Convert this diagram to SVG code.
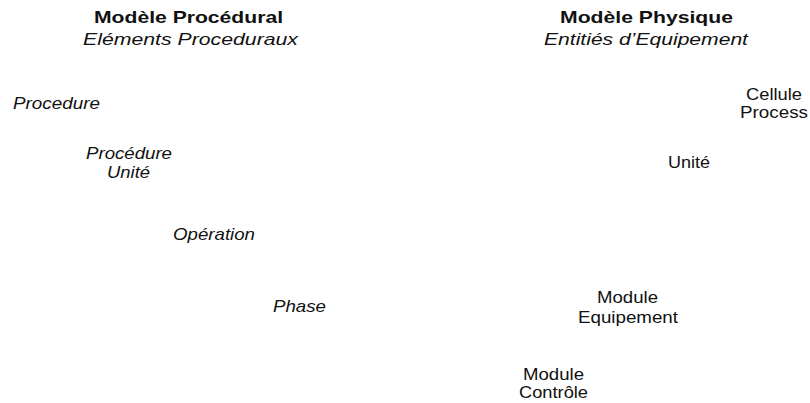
<svg xmlns="http://www.w3.org/2000/svg" width="810" height="403" viewBox="0 0 810 403">
  <style>
    text { font-family: "Liberation Sans", Arial, sans-serif; font-size: 16.5px; fill: #111; text-anchor: middle; }
    .title { font-weight: bold; }
    .it { font-style: italic; }
  </style>
  <rect width="810" height="403" fill="#fff"/>

  <!-- column headings -->
  <g id="heading-procedural">
    <text class="title" x="188.5" y="23" textLength="189" lengthAdjust="spacingAndGlyphs">Modèle Procédural</text>
    <text class="it" x="190.5" y="45" textLength="215" lengthAdjust="spacingAndGlyphs">Eléments Proceduraux</text>
  </g>
  <g id="heading-physical">
    <text class="title" x="646.5" y="23" textLength="173" lengthAdjust="spacingAndGlyphs">Modèle Physique</text>
    <text class="it" x="646" y="45" textLength="204" lengthAdjust="spacingAndGlyphs">Entitiés d’Equipement</text>
  </g>

  <!-- procedural elements -->
  <g id="procedure">
    <text class="it" x="56.5" y="109" textLength="87" lengthAdjust="spacingAndGlyphs">Procedure</text>
  </g>
  <g id="procedure-unite">
    <text class="it" x="129" y="159" textLength="86" lengthAdjust="spacingAndGlyphs">Procédure</text>
    <text class="it" x="128.5" y="178" textLength="43" lengthAdjust="spacingAndGlyphs">Unité</text>
  </g>
  <g id="operation">
    <text class="it" x="214" y="240" textLength="82" lengthAdjust="spacingAndGlyphs">Opération</text>
  </g>
  <g id="phase">
    <text class="it" x="299.5" y="312" textLength="53" lengthAdjust="spacingAndGlyphs">Phase</text>
  </g>

  <!-- physical entities -->
  <g id="cellule-process">
    <text x="774" y="100" textLength="56" lengthAdjust="spacingAndGlyphs">Cellule</text>
    <text x="774" y="118" textLength="68" lengthAdjust="spacingAndGlyphs">Process</text>
  </g>
  <g id="unite">
    <text x="689" y="168" textLength="42" lengthAdjust="spacingAndGlyphs">Unité</text>
  </g>
  <g id="module-equipement">
    <text x="627.5" y="303" textLength="61" lengthAdjust="spacingAndGlyphs">Module</text>
    <text x="628" y="323" textLength="100" lengthAdjust="spacingAndGlyphs">Equipement</text>
  </g>
  <g id="module-controle">
    <text x="553.5" y="380" textLength="61" lengthAdjust="spacingAndGlyphs">Module</text>
    <text x="553.5" y="398" textLength="69" lengthAdjust="spacingAndGlyphs">Contrôle</text>
  </g>

  <!-- connectors: none drawn -->
  <g id="connectors"/>
</svg>
